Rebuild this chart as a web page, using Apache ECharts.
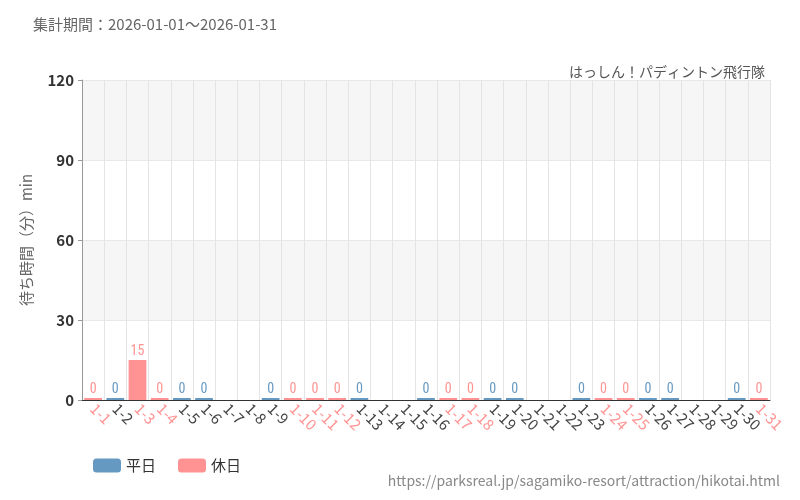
<!DOCTYPE html>
<html>
<head>
<meta charset="utf-8">
<script src="https://cdn.jsdelivr.net/npm/echarts@6/dist/echarts.min.js"></script>
<style>
  html, body { margin: 0; padding: 0; }
  #main { width: 800px; height: 500px; }
</style>
</head>
<body>
<div id="main"></div>
<script>
  // 日付
  var days = [];
  for (var d = 1; d <= 31; d++) days.push("1-" + d);
  // 休日
  var holidays = ["1-1", "1-3", "1-4", "1-10", "1-11", "1-12", "1-17", "1-18", "1-24", "1-25", "1-31"];
  // 平日の待ち時間 (null = データなし)
  var weekdayData = [null, 0, null, null, 0, 0, null, null, 0, null, null, null, 0, null, null, 0,
    null, null, 0, 0, null, null, 0, null, null, 0, 0, null, null, 0, null];
  // 休日の待ち時間
  var holidayData = [0, null, 15, 0, null, null, null, null, null, 0, 0, 0, null, null, null, null,
    0, 0, null, null, null, null, null, 0, 0, null, null, null, null, null, 0];
  var yTicks = [0, 30, 60, 90, 120];

  var BLUE = "#6699c2";
  var RED = "#ff9393";
  var FONT = "'Noto Sans CJK JP', 'Noto Sans', sans-serif";

  var myChart = echarts.init(document.getElementById("main"));

  function barLabel(color) {
    return {
      show: true,
      position: "top",
      color: color,
      fontSize: 14,
      fontFamily: "'Roboto Condensed', 'Liberation Sans Narrow', 'DejaVu Sans Condensed', sans-serif",
      distance: 2,
      textBorderColor: "#fff",
      textBorderWidth: 2
    };
  }

  myChart.setOption({
    textStyle: { fontFamily: FONT },
    title: [
      {
        text: "集計期間：2026-01-01～2026-01-31",
        left: 28, top: 12,
        textStyle: { fontSize: 15, fontWeight: "normal", color: "#666", fontFamily: FONT }
      },
      {
        text: "はっしん！パディントン飛行隊",
        right: 30, top: 60,
        textStyle: { fontSize: 14, fontWeight: "normal", color: "#555", fontFamily: FONT }
      }
    ],
    legend: {
      left: 88, bottom: 22,
      itemWidth: 28, itemHeight: 14, itemGap: 22,
      textStyle: { fontSize: 15, color: "#333" },
      data: ["平日", "休日"]
    },
    grid: { left: 82, right: 30, top: 80, bottom: 100 },
    xAxis: {
      type: "category",
      data: days,
      axisTick: { alignWithLabel: true, length: 4, lineStyle: { color: "#333" } },
      axisLine: { lineStyle: { color: "#333" } },
      splitLine: { show: true, lineStyle: { color: "#e4e4e4" } },
      axisLabel: {
        interval: 0,
        rotate: -45,
        fontSize: 15,
        margin: 6,
        color: function (v) { return holidays.indexOf(v) >= 0 ? RED : "#444"; }
      }
    },
    yAxis: {
      type: "value",
      name: "待ち時間（分）min",
      nameLocation: "middle",
      nameGap: 48,
      nameTextStyle: { fontSize: 15, color: "#666" },
      min: 0, max: 120, interval: 30,
      axisLine: { show: true, lineStyle: { color: "#999" } },
      axisTick: { show: true, length: 4, lineStyle: { color: "#999" } },
      axisLabel: {
        fontSize: 15, color: "#333", fontWeight: "bold",
        formatter: function (v) { return yTicks.indexOf(v) >= 0 ? v : ""; }
      },
      splitLine: { show: true, lineStyle: { color: "#e8e8e8" } },
      splitArea: { show: true, areaStyle: { color: ["#fff", "#f6f6f6"] } }
    },
    series: [
      {
        name: "平日", type: "bar", stack: "all",
        barWidth: "80%", barMinHeight: 2,
        itemStyle: { color: BLUE },
        label: barLabel(BLUE),
        data: weekdayData
      },
      {
        name: "休日", type: "bar", stack: "all",
        barWidth: "80%", barMinHeight: 2,
        itemStyle: { color: RED },
        label: barLabel(RED),
        data: holidayData
      }
    ],
    graphic: [
      {
        type: "text", right: 20, bottom: 12,
        style: { text: "https://parksreal.jp/sagamiko-resort/attraction/hikotai.html", fill: "#888", fontSize: 14, fontFamily: FONT }
      }
    ]
  });

  myChart.resize();
</script>
</body>
</html>
